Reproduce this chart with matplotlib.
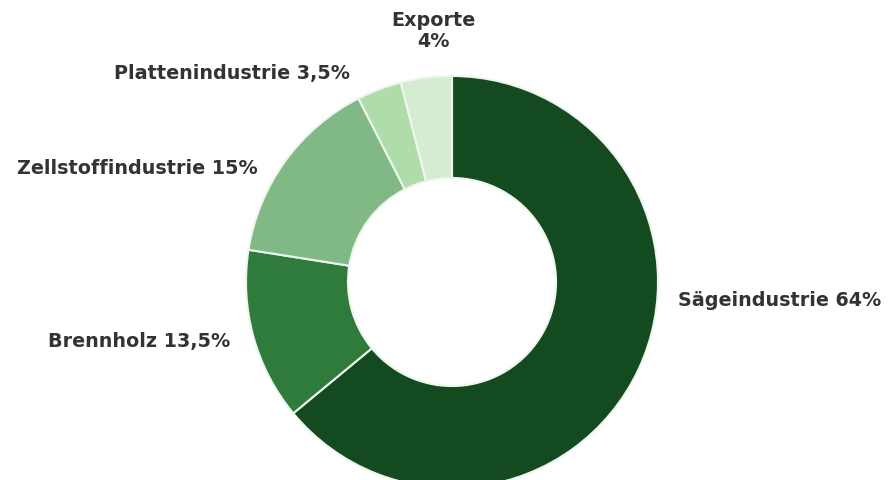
import matplotlib
matplotlib.use("Agg")
import matplotlib.pyplot as plt

labels = ["Sägeindustrie 64%", "Brennholz 13,5%", "Zellstoffindustrie 15%",
          "Plattenindustrie 3,5%", "Exporte\n4%"]
shares = [64, 13.5, 15, 3.5, 4]
colors = ["#134a20", "#2e7b3b", "#80b886", "#aedcab", "#d5ecd3"]

# label anchor positions in pixel space (x, y from top) and alignment
label_pos = [(678, 300, "left"), (230, 342, "right"), (258, 168, "right"),
             (350, 73, "right"), (433, 31, "center")]

W, H = 888, 481
fig = plt.figure(figsize=(W / 100, H / 100), dpi=100)
ax = fig.add_axes([0, 0, 1, 1])

cx, cy, r = 452, 283, 206
ax.pie(shares, colors=colors, startangle=90, counterclock=False,
       center=(cx, H - cy), radius=r, frame=True,
       wedgeprops=dict(width=r * 0.495, edgecolor="#eef6ee", linewidth=1.5))

for text, (x, y, ha) in zip(labels, label_pos):
    ax.text(x, H - y, text, ha=ha, va="center", fontsize=13.8,
            color="#333333", fontweight="bold", linespacing=1.1,
            family="DejaVu Sans")

ax.set_xlim(0, W)
ax.set_ylim(0, H)
ax.set_aspect("equal")
ax.axis("off")

fig.savefig("out.png", dpi=100)
